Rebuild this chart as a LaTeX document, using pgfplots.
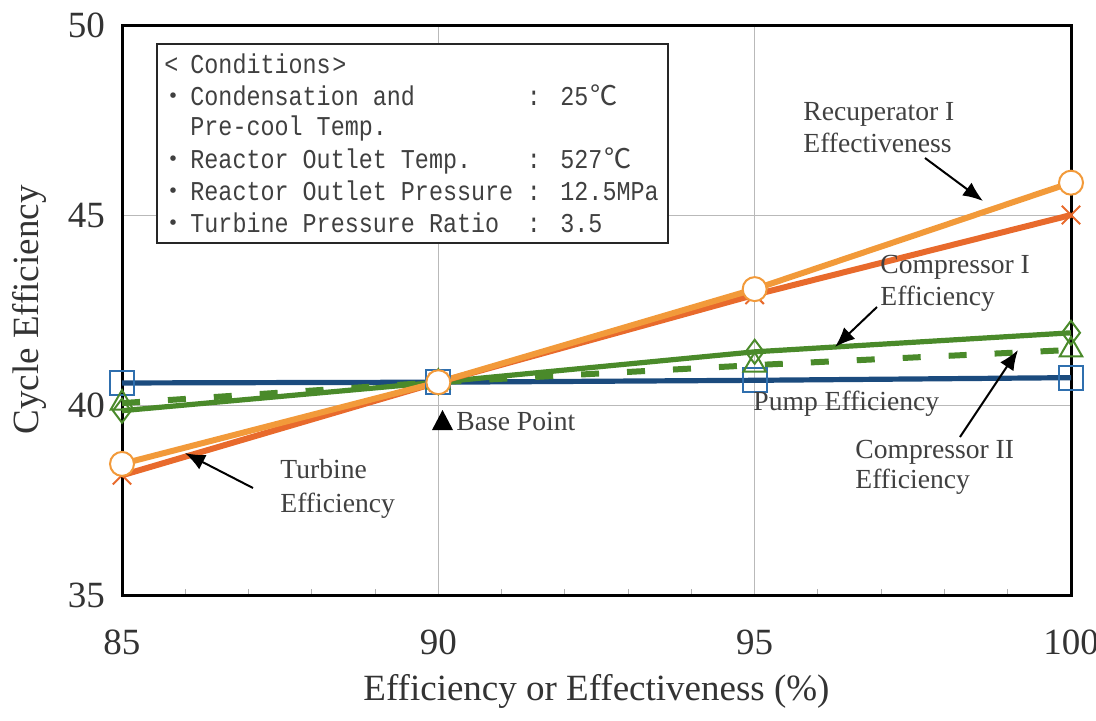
\documentclass[border=0pt]{standalone}
\usepackage{fontspec}
\setmainfont{Liberation Serif}
\newfontfamily\boxfont[FakeStretch=0.86]{Liberation Mono}
\newfontfamily\cjk{Noto Sans CJK JP}
\usepackage{pgfplots}
\pgfplotsset{compat=1.18}
\usetikzlibrary{arrows.meta}
\definecolor{cblue}{HTML}{1B4B7E}
\definecolor{cblueM}{HTML}{2F6FAE}
\definecolor{cgreen}{HTML}{4A8A2A}
\definecolor{corange}{HTML}{F29A3A}
\definecolor{cdorange}{HTML}{E86A2C}
\begin{document}
\begin{tikzpicture}
\begin{axis}[
  at={(0,0)}, anchor=south west,
  scale only axis, width=474.5pt, height=285pt,
  xmin=85, xmax=100, ymin=35, ymax=50,
  xtick={85,90,95,100}, ytick={35,40,45,50},
  minor x tick num=4,
  grid=major, major grid style={gray!55, line width=0.5pt},
  axis line style={line width=1.5pt, black},
  tick align=inside, major tick length=0pt, minor tick length=3pt,
  minor tick style={gray!60, line width=0.5pt},
  xtick pos=bottom, ytick pos=left,
  /pgf/number format/assume math mode=true,
  ticklabel style={font=\fontsize{18.5}{20}\selectfont, text=black!80},
  xticklabel style={yshift=-14pt},
  yticklabel style={xshift=-5pt},
  xlabel={Efficiency or Effectiveness (\%)},
  ylabel={Cycle Efficiency},
  label style={font=\fontsize{18.5}{20}\selectfont, text=black!80},
  xlabel style={at={(axis description cs:0.5,-0.170)}, anchor=center},
  ylabel style={at={(axis description cs:-0.097,0.5)}, anchor=center},
  clip=false,
]
% Pump Efficiency
\addplot[cblue, line width=2.6pt, mark=square, mark size=6pt,
  mark options={solid, draw=cblueM, fill=white, line width=1pt}]
  coordinates {(85,40.58) (90,40.6) (95,40.65) (100,40.72)};
% Compressor II Efficiency (dashed)
\addplot[cgreen, line width=3pt, dash pattern=on 9pt off 14pt, mark=triangle, mark size=6.5pt,
  mark options={solid, draw=cgreen, fill=white, line width=1pt}]
  coordinates {(85,40.05) (90,40.6) (95,41.05) (100,41.45)};
% Compressor I Efficiency
\addplot[cgreen, line width=2.6pt, mark=diamond, mark size=6pt,
  mark options={solid, draw=cgreen, fill=white, line width=1pt}]
  coordinates {(85,39.85) (90,40.6) (95,41.4) (100,41.9)};
% Turbine Efficiency
\addplot[cdorange, line width=3pt, mark=x, mark size=6.5pt,
  mark options={solid, draw=cdorange, line width=1pt}]
  coordinates {(85,38.15) (90,40.6) (95,42.9) (100,45.0)};
% Recuperator I Effectiveness
\addplot[corange, line width=3pt, mark=*, mark size=6pt,
  mark options={solid, draw=corange, fill=white, line width=1pt}]
  coordinates {(85,38.45) (90,40.6) (95,43.05) (100,45.85)};
\end{axis}
\begin{scope}[shift={(-61pt,297.5pt)}, x=0.5pt, y=-0.5pt]
  % conditions box
  \draw[line width=1.2pt, draw=black!85, fill=white] (157,44) rectangle (668,243);
  \begin{scope}[every node/.style={inner sep=0pt, font=\boxfont\fontsize{13.6}{15}\selectfont, text=black!75}]
    \node[anchor=base west] at (164,73) {<};
    \node[anchor=base west] at (190,73) {Conditions};
    \node[anchor=base west] at (332,73) {>};
    \foreach \yy in {105,168,200,232} {
      \node[anchor=base, font=\cjk\fontsize{13}{15}\selectfont] at (173,\yy) {・};
    }
    \node[anchor=base west] at (190,105) {Condensation and};
    \node[anchor=base west] at (190,135) {Pre-cool Temp.};
    \node[anchor=base west] at (190,168) {Reactor Outlet Temp.};
    \node[anchor=base west] at (190,200) {Reactor Outlet Pressure};
    \node[anchor=base west] at (190,232) {Turbine Pressure Ratio};
    \foreach \yy in {105,168,200,232} {
      \node[anchor=base] at (534,\yy) {:};
    }
    \node[anchor=base west] at (560,105) {25\kern1pt{\cjk ℃}};
    \node[anchor=base west] at (560,168) {527\kern1pt{\cjk ℃}};
    \node[anchor=base west] at (560,200) {12.5MPa};
    \node[anchor=base west] at (560,232) {3.5};
  \end{scope}
  % annotations
  \begin{scope}[every node/.style={inner sep=0pt, anchor=base west, font=\fontsize{13.8}{15}\selectfont, text=black!75}]
    \node at (803,120) {Recuperator I};
    \node at (803,152) {Effectiveness};
    \node at (880,273) {Compressor I};
    \node at (880,305) {Efficiency};
    \node at (753,410) {Pump Efficiency};
    \node at (855,458) {Compressor II};
    \node at (855,488) {Efficiency};
    \node at (280,478) {Turbine};
    \node at (280,512) {Efficiency};
    \node at (456,430) {Base Point};
  \end{scope}
  \fill[black] (432,430) -- (453,430) -- (442.5,410) -- cycle;
  \begin{scope}[line width=1pt, -{Latex[length=10pt,width=8pt]}]
    \draw (925,158) -- (983,201);
    \draw (877,307) -- (835,347);
    \draw (960,437) -- (1018,350);
    \draw (253,488) -- (185,453);
  \end{scope}
  \pgfresetboundingbox
  \useasboundingbox (0,0) rectangle (1096,720);
\end{scope}
\end{tikzpicture}
\end{document}
